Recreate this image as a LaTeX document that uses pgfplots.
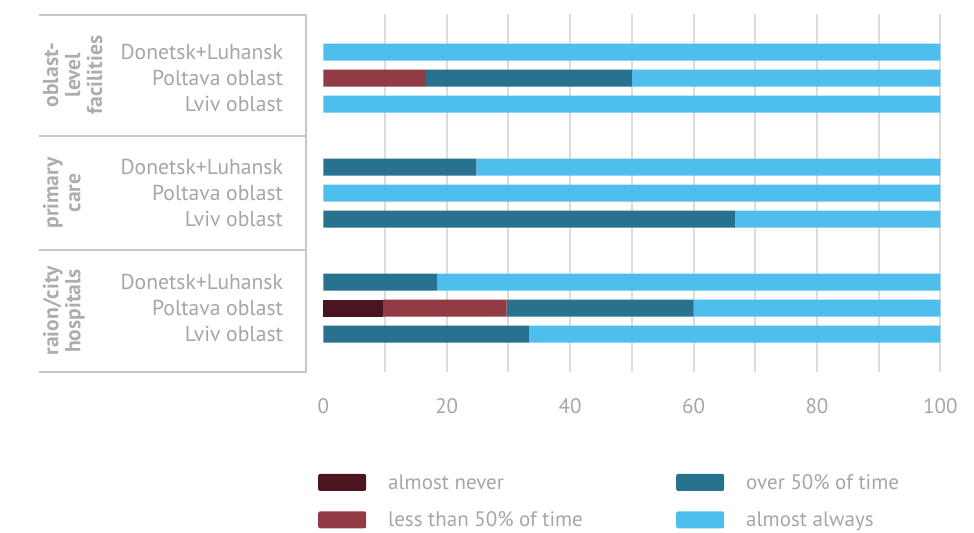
\documentclass[border=0pt]{standalone}
\usepackage{pgfplots}
\pgfplotsset{compat=1.18}
\usepackage{fontspec}
\setmainfont{PT Sans}
\definecolor{cnever}{HTML}{4A1520}
\definecolor{cless}{HTML}{923B45}
\definecolor{cover}{HTML}{28718F}
\definecolor{calways}{HTML}{4EBFED}
\definecolor{cgrid}{HTML}{DCDCDC}
\definecolor{ctext}{HTML}{A6A6A6}
\definecolor{clab}{HTML}{ADADAD}
\definecolor{cbox}{HTML}{C8C8C8}
\tikzset{rowlab/.style={anchor=base east, inner sep=0pt, text=ctext, font=\fontsize{10.8}{12}\selectfont},
  grplab/.style={rotate=90, anchor=north, align=center, inner sep=0pt, text=clab, font=\bfseries\fontsize{10.8}{11}\selectfont}}
\begin{document}
\begin{tikzpicture}
\begin{axis}[
  x=3.085pt, y=0.5pt, y dir=reverse,
  xmin=0, xmax=100, ymin=14, ymax=372,
  clip=false,
  axis line style={draw=none},
  major tick length=0pt,
  xtick={10,20,...,100},
  xticklabels={,20,,40,,60,,80,,100},
  extra x ticks={0}, extra x tick labels={0}, extra x tick style={grid=none},
  xmajorgrids, grid style={draw=cgrid, line width=1pt},
  ytick=\empty,
  xbar stacked, bar width=8.5pt,
  /pgf/number format/assume math mode=true,
  xticklabel style={font=\fontsize{10.5}{12}\selectfont, text=ctext, yshift=-9.5pt},
  legend style={at={(axis cs:-0.9,473.5)}, anchor=north west, draw=none, fill=none,
    inner sep=0pt, legend columns=2, transpose legend,
    nodes={inner sep=0pt, text=ctext, font=\fontsize{10.5}{12}\selectfont},
    row sep=9.5pt,
    /tikz/every odd column/.append style={column sep=11pt}},
  legend cell align=left,
  legend image code/.code={\fill[#1, rounded corners=1pt] (0pt,-3.8pt) rectangle (24pt,4.7pt);},
]
% never, less, over, always ; y = row centre (px)
\addplot[fill=cnever, draw=none] coordinates {(0,52) (0,78) (0,104) (0,167) (0,193) (0,219) (0,282) (9.7,308) (0,334)};
\addplot[fill=cless, draw=none] coordinates {(0,52) (16.6,78) (0,104) (0,167) (0,193) (0,219) (0,282) (20.0,308) (0,334)};
\addplot[fill=cover, draw=none] coordinates {(0,52) (33.4,78) (0,104) (24.8,167) (0,193) (66.7,219) (18.5,282) (30.3,308) (33.3,334)};
\addplot[fill=calways, draw=none] coordinates {(100,52) (50.0,78) (100,104) (75.2,167) (100,193) (33.3,219) (81.5,282) (40.0,308) (66.7,334)};
\addlegendentry{\makebox[144pt][l]{almost never}}
\addlegendentry{\makebox[144pt][l]{less than 50\% of time}}
\addlegendentry{over 50\% of time}
\addlegendentry{almost always}
% frame of the category labels
\draw[cbox, line width=1pt] (axis cs:-46.1,15) -- (axis cs:-2.84,15) -- (axis cs:-2.84,372) -- (axis cs:-46.1,372);
\draw[cbox, line width=1pt] (axis cs:-46.1,136) -- (axis cs:-2.84,136);
\draw[cbox, line width=1pt] (axis cs:-46.1,250) -- (axis cs:-2.84,250);
% row labels
\node[rowlab] at (axis cs:-6.48,59.5) {Donetsk+Luhansk};
\node[rowlab] at (axis cs:-6.48,85.5) {Poltava oblast};
\node[rowlab] at (axis cs:-6.48,111.5) {Lviv oblast};
\node[rowlab] at (axis cs:-6.48,174.5) {Donetsk+Luhansk};
\node[rowlab] at (axis cs:-6.48,200.5) {Poltava oblast};
\node[rowlab] at (axis cs:-6.48,226.5) {Lviv oblast};
\node[rowlab] at (axis cs:-6.48,289.5) {Donetsk+Luhansk};
\node[rowlab] at (axis cs:-6.48,315.5) {Poltava oblast};
\node[rowlab] at (axis cs:-6.48,341.5) {Lviv oblast};
% group labels
\node[grplab] at (axis cs:-45.5,75) {oblast-\\level\\facilities};
\node[grplab] at (axis cs:-45.5,193) {primary\\care};
\node[grplab] at (axis cs:-45.5,311) {raion/city\\hospitals};
\path (axis cs:-52.4,0) rectangle (axis cs:105.45,532);
\end{axis}
\end{tikzpicture}
\end{document}
